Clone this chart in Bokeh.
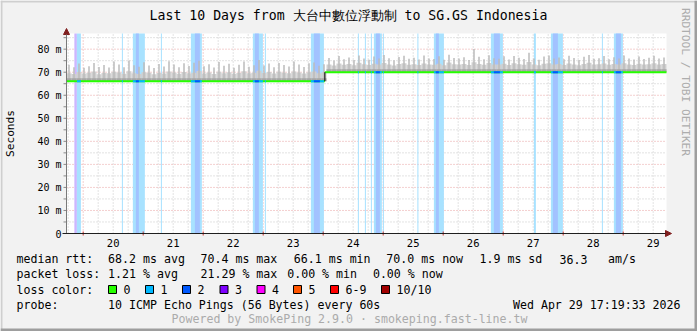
import math
from bokeh.plotting import figure
from bokeh.models import Range1d, Arrow, NormalHead
from bokeh.core.properties import value
from bokeh.embed import file_html
from bokeh.resources import INLINE

# ---------------- data ----------------
title_text = "Last 10 Days from 大台中數位浮動制 to SG.GS Indonesia"
end_stamp = "Wed Apr 29 17:19:33 2026"
start_day = 19 + (17 + 19 / 60 + 33 / 3600) / 24   # Apr 19 17:19:33, in days of April
span_days = 10
end_day = start_day + span_days

day_ticks = [20, 21, 22, 23, 24, 25, 26, 27, 28, 29]
day_labels = ["20", "21", "22", "23", "24", "25", "26", "27", "28", "29"]
y_ticks = [0, 10, 20, 30, 40, 50, 60, 70, 80]
y_tick_labels = ["0", "10 m", "20 m", "30 m", "40 m", "50 m", "60 m", "70 m", "80 m"]
y_top = 86.8

# median rtt (ms): constant pieces
median_bounds = [start_day, 24.028, end_day]
median_ms = [66.1, 70.0]

# smoke, 2-hour buckets from start_day (ms)
bucket_days = 2 / 24
smoke_body = [
    69.6, 69.2, 70.1, 69.4, 69.8, 70.3, 69.1, 69.7, 69.5, 70.2,
    69.9, 69.3, 70.4, 69.6, 69.2, 70.0, 69.8, 69.1, 69.7, 69.4,
    70.3, 69.9, 69.3, 70.1, 69.5, 69.8, 70.5, 69.4, 69.9, 69.2,
    70.2, 69.6, 70.0, 69.3, 69.7, 70.4, 69.5, 69.8, 70.6, 69.7,
    70.1, 69.4, 70.2, 69.8, 69.5, 70.3, 69.9, 69.4, 70.0, 70.3,
    69.6, 70.0,
    73.3, 72.9, 73.8, 73.2, 73.6, 73.0, 74.1, 73.5, 73.1, 73.7,
    73.4, 74.0, 73.3, 72.9, 73.6, 73.9, 73.2, 73.5, 73.1, 73.8,
    73.4, 73.2, 73.7, 73.0, 74.2, 73.5, 73.3, 73.6, 73.1, 74.3,
    73.6, 73.2, 74.0, 73.4, 73.3, 73.7, 73.1, 73.9, 73.5, 73.2,
    74.4, 73.4, 73.0, 73.7, 73.9, 73.3, 73.6, 73.1, 73.8, 73.4,
    73.0, 73.6, 74.1, 73.3, 73.5, 73.8, 73.2, 73.6, 73.3, 73.9,
    73.4, 73.1, 73.7, 73.3, 73.5, 73.9, 73.3, 73.6,
]
smoke_spike = [
    73.2, 72.1, 73.8, 71.9, 72.6, 74.0, 72.3, 73.1, 72.0, 74.6,
    73.4, 72.2, 75.1, 73.0, 72.4, 74.3, 72.9, 71.8, 73.6, 72.5,
    74.8, 73.3, 72.1, 73.9, 72.7, 74.1, 75.0, 72.6, 73.5, 72.0,
    74.4, 72.8, 73.7, 71.9, 73.2, 74.6, 72.4, 73.0, 75.3, 72.9,
    73.8, 72.2, 74.0, 73.1, 72.5, 74.7, 73.4, 72.3, 73.9, 74.2,
    72.8, 73.5,
    76.2, 75.1, 77.0, 75.6, 76.4, 75.3, 77.3, 76.0, 75.4, 76.8,
    75.9, 77.5, 76.1, 75.2, 76.6, 77.1, 75.8, 76.3, 75.5, 77.2,
    76.0, 75.7, 76.9, 75.4, 77.6, 76.2, 75.9, 76.5, 75.3, 80.1,
    76.7, 75.6, 77.4, 76.1, 75.8, 76.9, 75.5, 77.0, 76.3, 75.7,
    78.4, 76.0, 75.4, 76.8, 77.2, 75.9, 76.4, 75.6, 77.1, 76.2,
    75.3, 76.7, 77.5, 75.8, 76.1, 77.0, 75.6, 76.5, 75.9, 77.3,
    76.0, 75.5, 76.8, 75.7, 76.3, 77.1, 75.9, 76.4,
]

# loss background bands (days of April) and loss level
band_start = [19.853, 19.895, 20.645, 20.828, 20.878, 21.295, 21.795, 21.862,
              22.828, 22.862, 23.028, 23.795, 23.845, 24.578, 24.695, 24.795,
              24.845, 24.878, 24.995, 25.570, 25.845, 25.878, 26.795, 26.845,
              27.512, 27.795, 27.828, 28.645, 28.845, 28.878]
band_end = [19.895, 19.962, 20.662, 21.028, 20.928, 21.312, 21.978, 21.945,
            22.995, 22.928, 23.045, 24.012, 23.945, 24.595, 24.712, 24.812,
            24.978, 24.945, 25.012, 25.587, 26.012, 25.928, 26.995, 26.945,
            27.545, 27.995, 27.912, 28.662, 28.995, 28.962]
band_level = [3, 1, 1, 1, 2, 1, 1, 2,
              1, 2, 1, 1, 2, 1, 1, 1,
              1, 2, 1, 1, 1, 2, 1, 2,
              1, 1, 2, 1, 1, 2]

loss_labels = ["0", "1", "2", "3", "4", "5", "6-9", "10/10"]
loss_colors = ["#26ff00", "#00b8ff", "#0059ff", "#7e00ff", "#ff00ff", "#ff5500", "#ff0000", "#a10000"]
rtt_stats = [68.2, 70.4, 66.1, 70.0, 1.9]
rtt_am_s = 36.3
loss_stats = [1.21, 21.29, 0.00, 0.00]
probe_text = "10 ICMP Echo Pings (56 Bytes) every 60s"
footer_text = "Powered by SmokePing 2.9.0 · smokeping.fast-line.tw"
watermark = "RRDTOOL / TOBI OETIKER"

# ---------------- layout / styles ----------------
MONO = "DejaVu Sans Mono"
band_fill = {1: "#A8E2FF", 2: "#A2C2FF", 3: "#CDB6FF"}
W, H = 697, 331
FL, FB = 66, 233          # graph canvas left / bottom (page pixels)
FW, FH = 600, 200         # graph canvas size

def dx(px):   # page x pixel -> day
    return start_day + (px - FL) * span_days / FW

def dy(py):   # page y pixel -> ms
    return (FB - py) * y_top / FH

p = figure(width=W, height=H, output_backend="svg", toolbar_location=None,
           x_range=Range1d(dx(0), dx(W)), y_range=Range1d(dy(H), dy(0)),
           x_axis_location=None, y_axis_location=None,
           min_border=0, min_border_left=0, min_border_right=0,
           min_border_top=0, min_border_bottom=0,
           background_fill_color="#F2F2F2", border_fill_color="#F2F2F2",
           outline_line_color=None)
p.grid.visible = False

# outer 3D frame
p.quad(left=[dx(0), dx(0)], right=[dx(W), dx(2)], bottom=[dy(2), dy(H)], top=[dy(0), dy(0)],
       fill_color="#CFCFCF", line_color=None)
p.quad(left=[dx(0), dx(W - 3)], right=[dx(W), dx(W)], bottom=[dy(H), dy(H)], top=[dy(H - 3), dy(0)],
       fill_color="#9E9E9E", line_color=None)

# graph canvas
p.quad(left=[start_day], right=[end_day], bottom=[0], top=[y_top],
       fill_color="#FFFFFF", line_color=None)

# grid
minor_days = [d + q / 4 for d in range(19, 30) for q in (1, 2, 3)]
minor_days = [d for d in minor_days if start_day < d < end_day]
p.segment(x0=minor_days, x1=minor_days, y0=0, y1=y_top,
          line_color="#C6C6C6", line_width=1, line_dash="1 2")
minor_ms = [t + 5 for t in y_ticks]
p.segment(x0=start_day, x1=end_day, y0=minor_ms, y1=minor_ms,
          line_color="#C6C6C6", line_width=1, line_dash="1 2")
p.segment(x0=day_ticks, x1=day_ticks, y0=0, y1=y_top,
          line_color="#E8A0A0", line_width=1, line_dash="1 2")
p.segment(x0=start_day, x1=end_day, y0=y_ticks[1:], y1=y_ticks[1:],
          line_color="#E8A0A0", line_width=1, line_dash="1 2")

# loss bands
for lvl in (3, 1, 2):
    idx = [i for i, l in enumerate(band_level) if l == lvl]
    p.quad(left=[band_start[i] for i in idx], right=[band_end[i] for i in idx],
           bottom=0, top=y_top, fill_color=band_fill[lvl], line_color=None)

def median_at(d):
    return median_ms[0] if d < median_bounds[1] else median_ms[1]

# smoke
centers = [start_day + (i + 0.5) * bucket_days for i in range(len(smoke_body))]
bases = [median_at(c) for c in centers]
p.vbar(x=centers, width=bucket_days, bottom=bases, top=smoke_body,
       fill_color="#CFCFCF", line_color=None)
p.vbar(x=centers, width=bucket_days * 0.3, bottom=bases, top=smoke_spike,
       fill_color="#BBBBBB", line_color=None)
p.vbar(x=centers, width=bucket_days, bottom=bases, top=[b + 1.3 for b in bases],
       fill_color="#A6A6A6", line_color=None)

# median line
p.segment(x0=median_bounds[:-1], x1=median_bounds[1:], y0=median_ms, y1=median_ms,
          line_color=loss_colors[0], line_width=2)
p.segment(x0=[median_bounds[1]], x1=[median_bounds[1]], y0=[median_ms[0]], y1=[median_ms[1]],
          line_color="#000000", line_width=1)
lv = [i for i, l in enumerate(band_level) if l in (1, 2)]
p.segment(x0=[band_start[i] for i in lv], x1=[band_end[i] for i in lv],
          y0=[median_at(band_start[i]) for i in lv], y1=[median_at(band_start[i]) for i in lv],
          line_color=[loss_colors[band_level[i]] for i in lv], line_width=2)

# axes: ticks, lines, arrows
p.segment(x0=dx(FL - 3), x1=start_day, y0=y_ticks + minor_ms, y1=y_ticks + minor_ms,
          line_color="#8A8A8A", line_width=1)
p.segment(x0=day_ticks, x1=day_ticks, y0=dy(FB + 2), y1=dy(FB - 2),
          line_color="#C83232", line_width=1)
p.add_layout(Arrow(x_start=start_day, y_start=0, x_end=start_day, y_end=dy(FB - FH - 5),
                   line_color="#7A7A7A", line_width=1,
                   end=NormalHead(size=6, fill_color="#801F1F", line_color="#801F1F")))
p.add_layout(Arrow(x_start=dx(FL - 4), y_start=0, x_end=dx(FL + FW + 5), y_end=0,
                   line_color="#1F1F1F", line_width=1,
                   end=NormalHead(size=6, fill_color="#801F1F", line_color="#801F1F")))

# tick labels
p.text(x=dx(FL - 5), y=y_ticks, text=y_tick_labels, text_font=value(MONO),
       text_font_size=value("10px"), text_align="right", text_baseline="middle",
       text_color="#000000")
p.text(x=[d + 0.5 for d in day_ticks], y=dy(FB + 9.5), text=day_labels, text_font=value(MONO),
       text_font_size=value("10.5px"), text_align="center", text_baseline="middle",
       text_color="#000000")

# ---------------- texts ----------------
def txt(x, y, text, size="11.6px", color="#000000", align="left", angle=0.0):
    p.text(x=[dx(x)], y=[dy(y)], text=[text], text_font=value(MONO),
           text_font_size=value(size), text_color=color, text_align=align,
           text_baseline="middle", angle=angle)

txt(348, 15, title_text, size="13.2px", align="center")
txt(10, 133, "Seconds", size="11.2px", align="center", angle=math.pi / 2)
txt(684.5, 81.5, watermark, size="11.2px", color="#ADADAD", align="center", angle=-math.pi / 2)

r1, r2, r3, r4, r5 = 258.5, 273.5, 289, 304, 318
txt(16, r1, "median rtt:")
for x, v, unit in zip([107.6, 200, 293.3, 385.8, 479], rtt_stats, ["avg", "max", "min", "now", "sd"]):
    txt(x, r1, f"{v:.1f} ms {unit}")
txt(559, r1, f"{rtt_am_s:.1f}")
txt(607.6, r1, "am/s")

txt(16, r2, "packet loss:")
for x, v, unit in zip([107.6, 200, 286.7, 372.4], loss_stats, ["avg", "max", "min", "now"]):
    txt(x, r2, f"{v:.2f} % {unit}")

txt(16, r3, "loss color:")
sw_x = [108, 145, 182, 219.5, 256.5, 293, 330, 381]
p.quad(left=[dx(x) for x in sw_x], right=[dx(x + 8) for x in sw_x],
       bottom=dy(r3 + 4), top=dy(r3 - 4), fill_color=loss_colors,
       line_color="#000000", line_width=1)
for x, lab in zip(sw_x, loss_labels):
    txt(x + 15, r3, lab)

txt(16, r4, "probe:")
txt(107.6, r4, probe_text)
txt(680, r4, end_stamp, align="right")
txt(349, r5, footer_text, color="#ABABAB", align="center")

open("out.html", "w").write(file_html(p, INLINE))
